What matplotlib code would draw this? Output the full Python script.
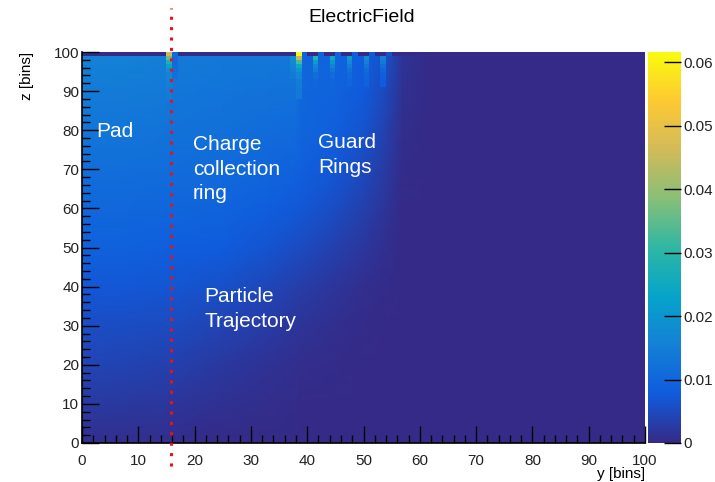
import numpy as np
import matplotlib
matplotlib.use("Agg")
import matplotlib.pyplot as plt
from matplotlib.colors import LinearSegmentedColormap

plt.rcParams["font.family"] = ["Liberation Sans", "DejaVu Sans"]

# field map |E| on a coarse node grid (y nodes across, z nodes down the list)
y_nodes = [0, 8, 15, 16, 25, 33, 38, 39, 45, 50, 54, 57, 62, 100]
z_nodes = [0, 10, 20, 30, 40, 50, 60, 70, 80, 90, 99]
field = [
    # y: 0      8       15      16      25      33      38      39      45      50      54      57      62  100
    [0.0008, 0.0007, 0.0005, 0.0005, 0.0002, 0.0001, 0.0000, 0.0000, 0.0000, 0.0000, 0.0000, 0.0000, 0.0, 0.0],
    [0.0026, 0.0024, 0.0020, 0.0019, 0.0010, 0.0005, 0.0003, 0.0002, 0.0001, 0.0000, 0.0000, 0.0000, 0.0, 0.0],
    [0.0042, 0.0040, 0.0036, 0.0035, 0.0024, 0.0013, 0.0008, 0.0007, 0.0003, 0.0001, 0.0000, 0.0000, 0.0, 0.0],
    [0.0056, 0.0055, 0.0052, 0.0051, 0.0040, 0.0027, 0.0018, 0.0016, 0.0009, 0.0004, 0.0001, 0.0000, 0.0, 0.0],
    [0.0072, 0.0071, 0.0069, 0.0068, 0.0059, 0.0045, 0.0033, 0.0031, 0.0019, 0.0009, 0.0003, 0.0000, 0.0, 0.0],
    [0.0088, 0.0087, 0.0085, 0.0084, 0.0077, 0.0065, 0.0054, 0.0051, 0.0036, 0.0020, 0.0008, 0.0001, 0.0, 0.0],
    [0.0103, 0.0102, 0.0100, 0.0099, 0.0093, 0.0084, 0.0074, 0.0070, 0.0055, 0.0035, 0.0016, 0.0002, 0.0, 0.0],
    [0.0117, 0.0116, 0.0114, 0.0112, 0.0107, 0.0099, 0.0091, 0.0086, 0.0072, 0.0050, 0.0026, 0.0004, 0.0, 0.0],
    [0.0131, 0.0130, 0.0127, 0.0124, 0.0119, 0.0113, 0.0107, 0.0097, 0.0085, 0.0065, 0.0036, 0.0007, 0.0, 0.0],
    [0.0145, 0.0144, 0.0140, 0.0134, 0.0129, 0.0125, 0.0121, 0.0100, 0.0093, 0.0075, 0.0046, 0.0010, 0.0, 0.0],
    [0.0155, 0.0155, 0.0150, 0.0140, 0.0137, 0.0135, 0.0135, 0.0098, 0.0095, 0.0082, 0.0060, 0.0015, 0.0, 0.0],
]

# top row of bins (z 99-100): electrodes read ~0, openings and edges carry field
top_row_bins = [15, 16, 38, 39, 42, 45, 48, 51, 54]
top_row_field = [0.045, 0.0105, 0.062, 0.0092, 0.0090, 0.0088, 0.0082, 0.0075, 0.0060]

# field spikes just below the electrode edges
streak_z_edges = [88, 91, 93, 95, 96, 97, 98, 99]
streak_bins = [15, 16, 37, 38, 41, 44, 47, 50, 53]
streak_field = [
    # rows follow streak_z_edges from bottom to top
    [0.0145, 0.0150, 0.0165, 0.0190, 0.0230, 0.0280, 0.0360],
    [np.nan, np.nan, 0.0120, 0.0115, 0.0110, 0.0105, 0.0105],
    [np.nan, np.nan, 0.0140, 0.0150, 0.0160, 0.0175, 0.0190],
    [0.0135, 0.0145, 0.0165, 0.0200, 0.0250, 0.0330, 0.0440],
    [np.nan, 0.0100, 0.0115, 0.0140, 0.0170, 0.0220, 0.0290],
    [np.nan, 0.0098, 0.0110, 0.0130, 0.0160, 0.0200, 0.0250],
    [np.nan, 0.0095, 0.0105, 0.0120, 0.0145, 0.0175, 0.0210],
    [np.nan, 0.0088, 0.0098, 0.0110, 0.0130, 0.0155, 0.0180],
    [np.nan, 0.0075, 0.0085, 0.0098, 0.0115, 0.0135, 0.0155],
]

pad_edge_y = 15.8
z_max = 0.0616
x_ticks = np.arange(0, 101, 10)
cbar_ticks = [0, 0.01, 0.02, 0.03, 0.04, 0.05, 0.06]

# ROOT kBird palette
bird_stops = [0.0, 0.125, 0.25, 0.375, 0.5, 0.625, 0.75, 0.875, 1.0]
bird_r = [0.2082, 0.0592, 0.0780, 0.0232, 0.1802, 0.5301, 0.8186, 0.9956, 0.9764]
bird_g = [0.1664, 0.3599, 0.5041, 0.6419, 0.7178, 0.7492, 0.7328, 0.7862, 0.9832]
bird_b = [0.5293, 0.8684, 0.8385, 0.7914, 0.6425, 0.4662, 0.3499, 0.1968, 0.0539]
bird = LinearSegmentedColormap.from_list(
    "bird", list(zip(bird_stops, zip(bird_r, bird_g, bird_b))), N=256
)

fig = plt.figure(figsize=(7.15, 4.82), dpi=100)
ax = fig.add_axes([82 / 715, 39 / 482, 563 / 715, 391 / 482])
cax = fig.add_axes([648 / 715, 39 / 482, 33 / 715, 391 / 482])

mesh = ax.pcolormesh(y_nodes, z_nodes, np.array(field), cmap=bird,
                     vmin=0, vmax=z_max, shading="gouraud")

bin_edges = np.arange(0, 101)
top_row = np.zeros(100)
top_row[top_row_bins] = top_row_field
ax.pcolormesh(bin_edges, [99, 100], top_row[np.newaxis, :], cmap=bird,
              vmin=0, vmax=z_max, shading="flat")

streaks = np.full((len(streak_z_edges) - 1, 100), np.nan)
for b, vals in zip(streak_bins, streak_field):
    streaks[:, b] = vals
ax.pcolormesh(bin_edges, streak_z_edges, np.ma.masked_invalid(streaks), cmap=bird,
              vmin=0, vmax=z_max, shading="flat")

ax.set_xlim(0, 100)
ax.set_ylim(0, 100)
ax.set_xticks(x_ticks)
ax.set_yticks(x_ticks)
ax.set_xticks(np.arange(0, 101, 2), minor=True)
ax.set_yticks(np.arange(0, 101, 2), minor=True)
ax.tick_params(which="major", direction="in", length=12, width=1.0,
               labelsize=11, colors="black", labelcolor="#222222")
ax.tick_params(which="minor", direction="in", length=6, width=1.0, colors="black")
ax.tick_params(axis="x", pad=8)
ax.tick_params(axis="y", pad=2)
for side in ("top", "right"):
    ax.spines[side].set_visible(False)
for side in ("left", "bottom"):
    ax.spines[side].set_linewidth(1.2)

ax.set_xlabel("y [bins]", fontsize=11, loc="right", labelpad=-1)
ax.set_ylabel("z [bins]", fontsize=11, loc="top", labelpad=14)

# boundary between pad and charge collection ring
ax.plot([pad_edge_y, pad_edge_y], [-5.8, 111.3], color="#ee1111", lw=2.2,
        linestyle=(0, (1, 2.4)), dash_capstyle="butt", clip_on=False, zorder=5)

label_style = dict(color="white", fontsize=15, va="top", ha="left", linespacing=1.38)
ax.text(2.5, 82.1, "Pad", **label_style)
ax.text(19.7, 78.8, "Charge\ncollection\nring", **label_style)
ax.text(41.9, 79.3, "Guard\nRings", **label_style)
ax.text(21.7, 39.9, "Particle\nTrajectory", **label_style)

cbar = fig.colorbar(mesh, cax=cax, ticks=cbar_ticks)
cbar.ax.set_yticklabels(["0", "0.01", "0.02", "0.03", "0.04", "0.05", "0.06"])
cbar.ax.tick_params(direction="in", length=12, width=1.0, labelsize=11,
                    labelcolor="#222222", pad=2)
cbar.outline.set_visible(False)

fig.text(362 / 715, 1 - 18 / 482, "ElectricField", ha="center", va="center", fontsize=14)

fig.savefig("out.png", dpi=100)
